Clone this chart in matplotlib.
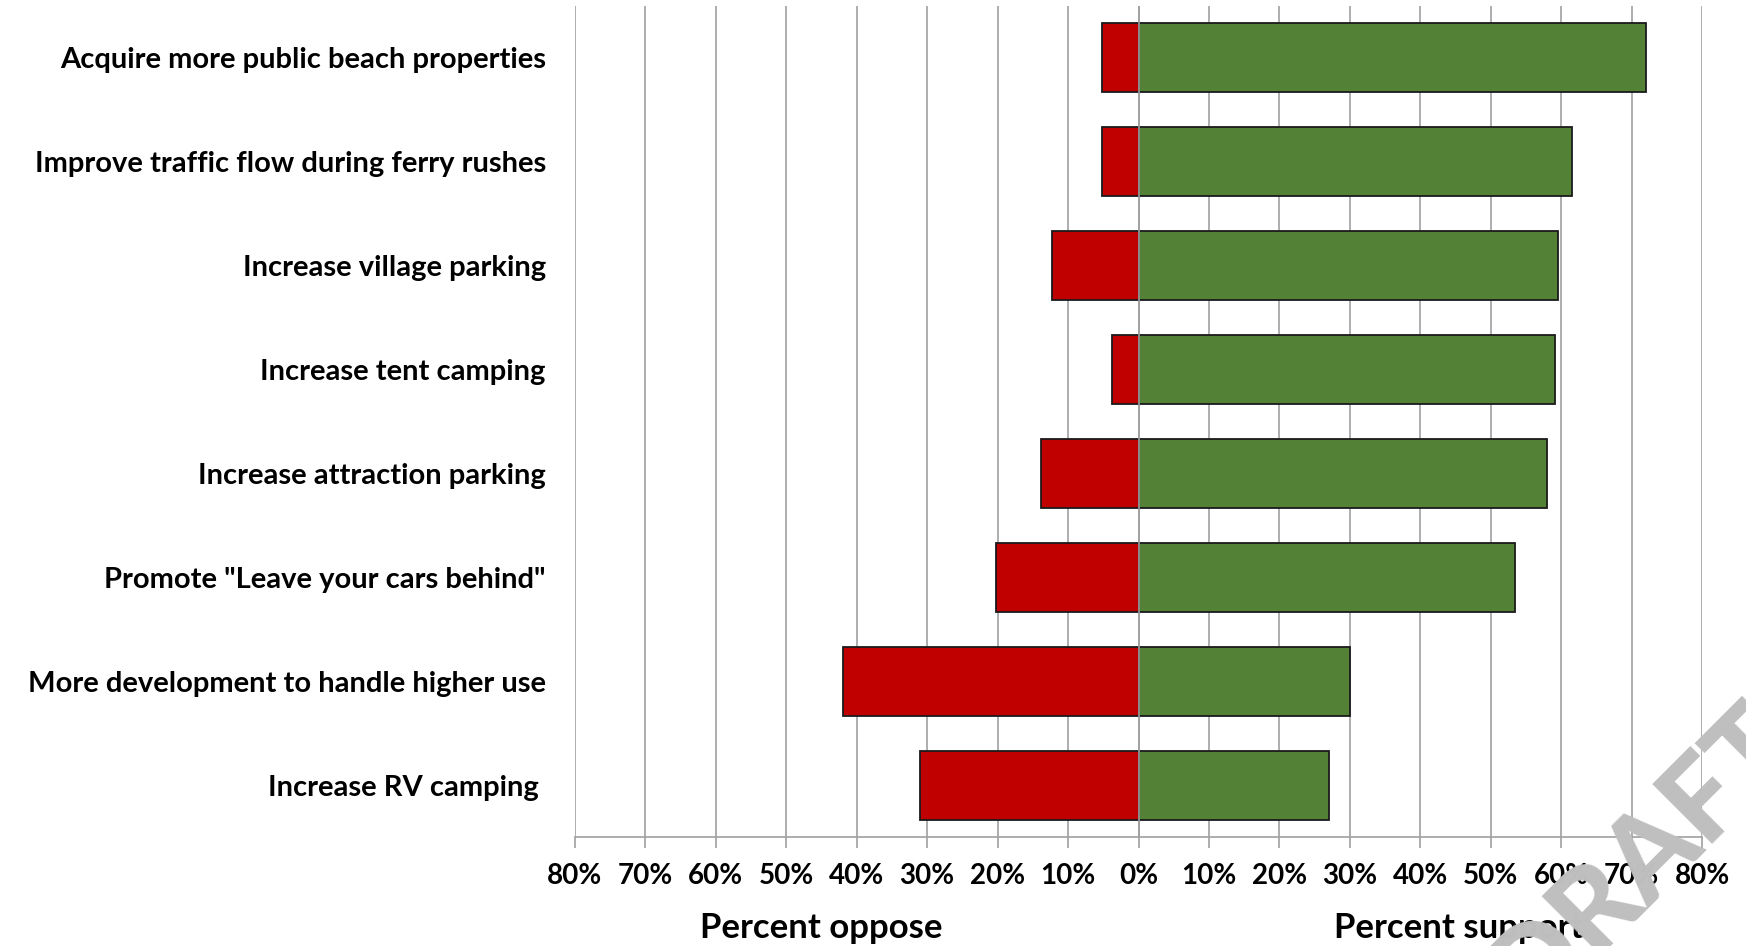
import matplotlib
matplotlib.use("Agg")
import matplotlib.pyplot as plt
import numpy as np

categories = [
    "Acquire more public beach properties",
    "Improve traffic flow during ferry rushes",
    "Increase village parking",
    "Increase tent camping",
    "Increase attraction parking",
    'Promote "Leave your cars behind"',
    "More development to handle higher use",
    "Increase RV camping ",
]
oppose = [5.2, 5.2, 12.3, 3.8, 13.9, 20.2, 41.9, 31.0]
support = [72.1, 61.5, 59.6, 59.1, 58.0, 53.4, 30.0, 27.0]
tick_values = [-80, -70, -60, -50, -40, -30, -20, -10, 0, 10, 20, 30, 40, 50, 60, 70, 80]
tick_labels = [f"{abs(v)}%" for v in tick_values]

plt.rcParams['font.family'] = ['Lato', 'DejaVu Sans']

fig = plt.figure(figsize=(17.46, 9.46), dpi=100)
ax = fig.add_axes([575/1746, 1 - 837/946, (1702 - 575)/1746, (837 - 6)/946])

y = np.arange(len(categories))
h = 0.665
ax.barh(y, [-o for o in oppose], height=h, color='#c00000', edgecolor='#1a1a1a', linewidth=1.3, zorder=3)
ax.barh(y, support, height=h, color='#538135', edgecolor='#1a1a1a', linewidth=1.3, zorder=3)
ax.axvline(0, color='#a0a0a0', lw=1.2, zorder=4)

ax.set_xlim(-80, 80)
ax.set_ylim(len(categories) - 0.5, -0.5)
ax.set_xticks(tick_values)
ax.set_xticklabels(tick_labels, fontsize=20, fontweight='bold')
ax.set_yticks(y)
ax.set_yticklabels(categories, fontsize=21, fontweight='bold')
ax.tick_params(axis='y', length=0, pad=21)
ax.tick_params(axis='x', length=8, width=1.2, color='#a0a0a0', pad=11, direction='out')

ax.grid(axis='x', color='#a0a0a0', lw=1.2, zorder=0)
ax.set_axisbelow(True)
for s in ['top', 'right', 'left']:
    ax.spines[s].set_visible(False)
ax.spines['bottom'].set_color('#a0a0a0')
ax.spines['bottom'].set_linewidth(1.2)

fig.text((575 + (1138 - 575) * (35/80)) / 1746, 1 - 928/946, "Percent oppose",
         ha='center', va='center', fontsize=25, fontweight='bold')
fig.text((1138 + (1702 - 1138) * (45.5/80)) / 1746, 1 - 928/946, "Percent support",
         ha='center', va='center', fontsize=25, fontweight='bold')

fig.text(0.940, 0.093, "DRAFT", rotation=45, ha='center', va='center', fontsize=84,
         fontweight='black', color='#bfbfbf', zorder=10)

fig.savefig("out.png", dpi=100)
